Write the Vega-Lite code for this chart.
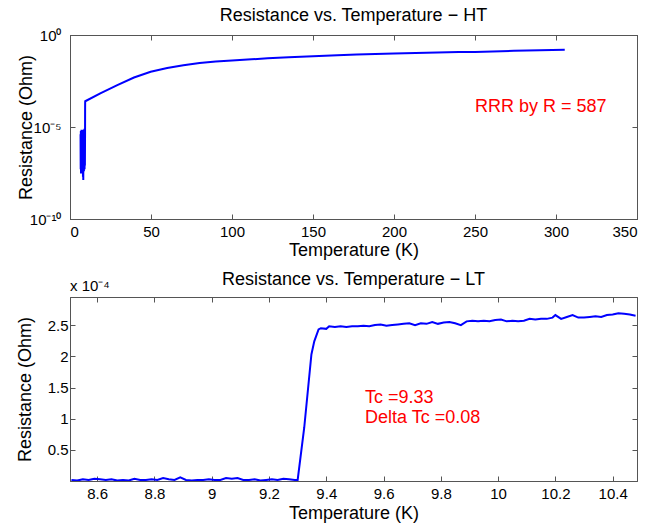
{
  "$schema": "https://vega.github.io/schema/vega-lite/v6.json",
  "background": "white",
  "padding": {"left": 15, "top": 6, "right": 5, "bottom": 2},
  "bounds": "flush",
  "spacing": 78,
  "config": {
    "font": "Liberation Sans",
    "view": {"stroke": "#555555", "strokeWidth": 1},
    "axis": {
      "domainColor": "#555555", "tickColor": "#555555", "tickSize": -5,
      "labelFont": "Liberation Sans", "labelFontSize": 15, "labelColor": "#000000",
      "titleFont": "Liberation Sans", "titleFontSize": 18, "titleFontWeight": "normal", "titleColor": "#000000",
      "grid": false
    },
    "title": {"font": "Liberation Sans", "fontSize": 18, "fontWeight": "normal", "color": "#000000", "offset": 3}
  },
  "datasets": {
    "ht": [
      {"T": 6.5, "R": 4e-6}, {"T": 6.6, "R": 5e-8}, {"T": 6.7, "R": 6e-6}, {"T": 6.8, "R": 3e-8},
      {"T": 6.9, "R": 5e-6}, {"T": 7.0, "R": 6e-8}, {"T": 7.1, "R": 7e-6}, {"T": 7.2, "R": 4e-8},
      {"T": 7.3, "R": 6e-6}, {"T": 7.4, "R": 8e-8}, {"T": 7.5, "R": 5e-6}, {"T": 7.6, "R": 3e-8},
      {"T": 7.7, "R": 7e-6}, {"T": 7.8, "R": 5e-8}, {"T": 7.9, "R": 6e-6}, {"T": 8.0, "R": 2e-8},
      {"T": 8.1, "R": 5e-6}, {"T": 8.2, "R": 1.3e-8}, {"T": 8.3, "R": 7e-6}, {"T": 8.4, "R": 6e-8},
      {"T": 8.5, "R": 5e-6}, {"T": 8.6, "R": 4e-8}, {"T": 8.7, "R": 6e-6}, {"T": 8.8, "R": 7e-8},
      {"T": 8.9, "R": 8e-6}, {"T": 9.0, "R": 5e-8}, {"T": 9.1, "R": 6e-6}, {"T": 9.2, "R": 8e-8},
      {"T": 9.3, "R": 5e-6}, {"T": 9.33, "R": 1.2e-4}, {"T": 9.36, "R": 2.2e-4}, {"T": 9.4, "R": 2.51e-4},
      {"T": 18.7, "R": 6.76e-4}, {"T": 29.2, "R": 1.905e-3}, {"T": 39.5, "R": 4.9e-3},
      {"T": 49.8, "R": 1.0e-2}, {"T": 60, "R": 1.62e-2}, {"T": 70, "R": 2.29e-2}, {"T": 80, "R": 3.02e-2},
      {"T": 90, "R": 3.63e-2}, {"T": 100, "R": 4.17e-2}, {"T": 112, "R": 4.79e-2}, {"T": 122, "R": 5.37e-2},
      {"T": 135, "R": 6.17e-2}, {"T": 150, "R": 7.08e-2}, {"T": 165, "R": 7.94e-2}, {"T": 177, "R": 8.71e-2},
      {"T": 200, "R": 0.1}, {"T": 220, "R": 0.1096}, {"T": 240, "R": 0.1175}, {"T": 250, "R": 0.1202},
      {"T": 274, "R": 0.138}, {"T": 290, "R": 0.148}, {"T": 305.4, "R": 0.1585}
    ],
    "lt": [
      {"T": 8.51, "R": 0.02}, {"T": 8.53, "R": 0.01}, {"T": 8.55, "R": 0.03}, {"T": 8.57, "R": 0.02},
      {"T": 8.59, "R": 0.04}, {"T": 8.61, "R": 0.03}, {"T": 8.63, "R": 0.02}, {"T": 8.65, "R": 0.03},
      {"T": 8.67, "R": 0.01}, {"T": 8.69, "R": 0.02}, {"T": 8.71, "R": 0.01}, {"T": 8.73, "R": 0.04},
      {"T": 8.75, "R": 0.02}, {"T": 8.77, "R": 0.02}, {"T": 8.79, "R": 0.03}, {"T": 8.81, "R": 0.02},
      {"T": 8.83, "R": 0.05}, {"T": 8.85, "R": 0.03}, {"T": 8.87, "R": 0.02}, {"T": 8.89, "R": 0.06},
      {"T": 8.91, "R": 0.02}, {"T": 8.93, "R": 0.01}, {"T": 8.95, "R": 0.02}, {"T": 8.97, "R": 0.02},
      {"T": 8.99, "R": 0.03}, {"T": 9.01, "R": 0.02}, {"T": 9.03, "R": 0.02}, {"T": 9.05, "R": 0.05},
      {"T": 9.07, "R": 0.04}, {"T": 9.09, "R": 0.05}, {"T": 9.11, "R": 0.02}, {"T": 9.13, "R": 0.02},
      {"T": 9.15, "R": 0.03}, {"T": 9.17, "R": 0.01}, {"T": 9.19, "R": 0.02}, {"T": 9.21, "R": 0.03},
      {"T": 9.23, "R": 0.02}, {"T": 9.25, "R": 0.04}, {"T": 9.27, "R": 0.03}, {"T": 9.29, "R": 0.02},
      {"T": 9.30, "R": 0.02}, {"T": 9.323, "R": 0.86}, {"T": 9.348, "R": 2.03}, {"T": 9.358, "R": 2.24},
      {"T": 9.373, "R": 2.43}, {"T": 9.381, "R": 2.45}, {"T": 9.40, "R": 2.44}, {"T": 9.41, "R": 2.48},
      {"T": 9.43, "R": 2.47}, {"T": 9.45, "R": 2.48}, {"T": 9.47, "R": 2.47}, {"T": 9.49, "R": 2.48},
      {"T": 9.51, "R": 2.48}, {"T": 9.53, "R": 2.49}, {"T": 9.55, "R": 2.48}, {"T": 9.57, "R": 2.50},
      {"T": 9.59, "R": 2.51}, {"T": 9.61, "R": 2.49}, {"T": 9.63, "R": 2.50}, {"T": 9.65, "R": 2.51},
      {"T": 9.67, "R": 2.52}, {"T": 9.69, "R": 2.53}, {"T": 9.71, "R": 2.50}, {"T": 9.73, "R": 2.53},
      {"T": 9.75, "R": 2.52}, {"T": 9.77, "R": 2.55}, {"T": 9.79, "R": 2.52}, {"T": 9.81, "R": 2.54},
      {"T": 9.83, "R": 2.55}, {"T": 9.85, "R": 2.53}, {"T": 9.87, "R": 2.50}, {"T": 9.89, "R": 2.56},
      {"T": 9.91, "R": 2.57}, {"T": 9.93, "R": 2.56}, {"T": 9.95, "R": 2.57}, {"T": 9.97, "R": 2.56},
      {"T": 9.99, "R": 2.58}, {"T": 10.01, "R": 2.59}, {"T": 10.03, "R": 2.56}, {"T": 10.05, "R": 2.57},
      {"T": 10.07, "R": 2.56}, {"T": 10.09, "R": 2.57}, {"T": 10.11, "R": 2.60}, {"T": 10.13, "R": 2.59},
      {"T": 10.15, "R": 2.60}, {"T": 10.17, "R": 2.60}, {"T": 10.19, "R": 2.62}, {"T": 10.20, "R": 2.66},
      {"T": 10.22, "R": 2.60}, {"T": 10.24, "R": 2.63}, {"T": 10.26, "R": 2.66}, {"T": 10.28, "R": 2.62},
      {"T": 10.30, "R": 2.62}, {"T": 10.32, "R": 2.63}, {"T": 10.34, "R": 2.64}, {"T": 10.36, "R": 2.63},
      {"T": 10.38, "R": 2.66}, {"T": 10.40, "R": 2.67}, {"T": 10.42, "R": 2.69}, {"T": 10.44, "R": 2.68},
      {"T": 10.46, "R": 2.67}, {"T": 10.48, "R": 2.65}
    ],
    "ann_ht": [{"T": 250, "R": 1.26e-4, "label": "RRR by R = 587"}],
    "ann_lt": [
      {"T": 9.535, "R": 1.33, "label": "Tc =9.33"},
      {"T": 9.535, "R": 1.005, "label": "Delta Tc =0.08"}
    ],
    "mult_lt": [{"T": 8.505, "R": 3.12, "label": "x 10⁻⁴"}]
  },
  "vconcat": [
    {
      "width": 567,
      "height": 184,
      "title": "Resistance vs. Temperature − HT",
      "layer": [
        {
          "data": {"name": "ht"},
          "mark": {"type": "line", "color": "#0000ff", "strokeWidth": 2, "clip": true},
          "encoding": {
            "x": {"field": "T", "type": "quantitative", "scale": {"domain": [0, 350], "nice": false},
                  "axis": {"values": [0, 50, 100, 150, 200, 250, 300, 350], "title": "Temperature (K)", "orient": "bottom", "labelPadding": 10, "titlePadding": 2}},
            "y": {"field": "R", "type": "quantitative", "scale": {"type": "log", "domain": [1e-10, 1], "nice": false},
                  "axis": {"values": [1e-10, 1e-5, 1], "orient": "left", "title": "Resistance (Ohm)", "labelPadding": 14, "titlePadding": -6,
                           "labelExpr": "datum.value > 0.5 ? '10⁰' : (datum.value > 1e-7 ? '10⁻⁵' : '10⁻¹⁰')"}}
          }
        },
        {
          "data": {"name": "ht"},
          "mark": {"type": "line", "opacity": 0},
          "encoding": {
            "x": {"field": "T", "type": "quantitative", "scale": {"domain": [0, 350], "nice": false},
                  "axis": {"values": [0, 50, 100, 150, 200, 250, 300, 350], "orient": "top", "labels": false, "title": null, "labelPadding": 0}},
            "y": {"field": "R", "type": "quantitative", "scale": {"type": "log", "domain": [1e-10, 1], "nice": false},
                  "axis": {"values": [1e-10, 1e-5, 1], "orient": "right", "labels": false, "title": null, "labelPadding": 0}}
          }
        },
        {
          "data": {"name": "ann_ht"},
          "mark": {"type": "text", "color": "#ff0000", "fontSize": 18, "align": "left", "baseline": "middle", "font": "Liberation Sans"},
          "encoding": {
            "x": {"field": "T", "type": "quantitative", "scale": {"domain": [0, 350], "nice": false}, "axis": null},
            "y": {"field": "R", "type": "quantitative", "scale": {"type": "log", "domain": [1e-10, 1], "nice": false}, "axis": null},
            "text": {"field": "label"}
          }
        }
      ],
      "resolve": {"axis": {"x": "independent", "y": "independent"}}
    },
    {
      "width": 567,
      "height": 184,
      "title": {"text": "Resistance vs. Temperature − LT", "offset": -10},
      "layer": [
        {
          "data": {"name": "lt"},
          "mark": {"type": "line", "color": "#0000ff", "strokeWidth": 2, "clip": true},
          "encoding": {
            "x": {"field": "T", "type": "quantitative", "scale": {"domain": [8.505, 10.485], "nice": false, "zero": false},
                  "axis": {"values": [8.6, 8.8, 9, 9.2, 9.4, 9.6, 9.8, 10, 10.2, 10.4], "format": ".1~f", "title": "Temperature (K)", "orient": "bottom", "labelPadding": 10, "titlePadding": 3}},
            "y": {"field": "R", "type": "quantitative", "scale": {"domain": [0.003, 2.95], "nice": false, "zero": false},
                  "axis": {"values": [0.5, 1, 1.5, 2, 2.5], "format": "~g", "orient": "left", "title": "Resistance (Ohm)", "labelPadding": 7, "titlePadding": 13}}
          }
        },
        {
          "data": {"name": "lt"},
          "mark": {"type": "line", "opacity": 0},
          "encoding": {
            "x": {"field": "T", "type": "quantitative", "scale": {"domain": [8.505, 10.485], "nice": false, "zero": false},
                  "axis": {"values": [8.6, 8.8, 9, 9.2, 9.4, 9.6, 9.8, 10, 10.2, 10.4], "orient": "top", "labels": false, "title": null, "labelPadding": 0}},
            "y": {"field": "R", "type": "quantitative", "scale": {"domain": [0.003, 2.95], "nice": false, "zero": false},
                  "axis": {"values": [0.5, 1, 1.5, 2, 2.5], "orient": "right", "labels": false, "title": null, "labelPadding": 0}}
          }
        },
        {
          "data": {"name": "ann_lt"},
          "mark": {"type": "text", "color": "#ff0000", "fontSize": 18, "align": "left", "baseline": "middle", "font": "Liberation Sans"},
          "encoding": {
            "x": {"field": "T", "type": "quantitative", "scale": {"domain": [8.505, 10.485], "nice": false, "zero": false}, "axis": null},
            "y": {"field": "R", "type": "quantitative", "scale": {"domain": [0.003, 2.95], "nice": false, "zero": false}, "axis": null},
            "text": {"field": "label"}
          }
        },
        {
          "data": {"name": "mult_lt"},
          "mark": {"type": "text", "color": "#000000", "fontSize": 15, "align": "left", "baseline": "middle", "font": "Liberation Sans"},
          "encoding": {
            "x": {"field": "T", "type": "quantitative", "scale": {"domain": [8.505, 10.485], "nice": false, "zero": false}, "axis": null},
            "y": {"field": "R", "type": "quantitative", "scale": {"domain": [0.003, 2.95], "nice": false, "zero": false}, "axis": null},
            "text": {"field": "label"}
          }
        }
      ],
      "resolve": {"axis": {"x": "independent", "y": "independent"}}
    }
  ]
}
